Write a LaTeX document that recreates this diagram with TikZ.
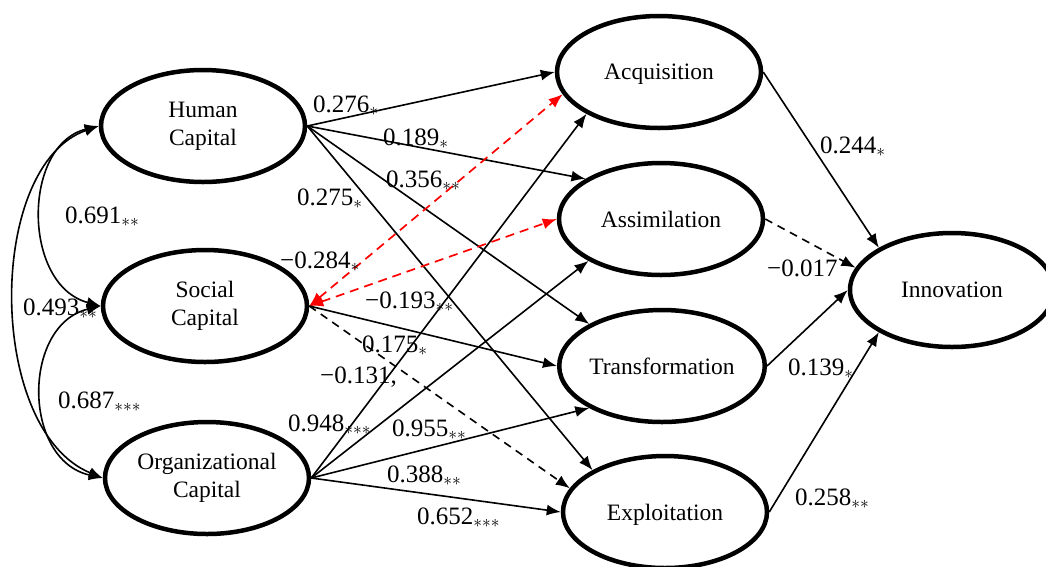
\RequirePackage{fix-cm}
\documentclass[tikz,border=0pt]{standalone}
\usepackage{fontspec}
\setmainfont{Liberation Serif}
\usetikzlibrary{shapes.geometric,arrows.meta}
\begin{document}
\begin{tikzpicture}[x=1pt,y=-1pt,
  lv/.style={ellipse,draw,line width=4.5pt,inner sep=0pt,minimum width=204pt,minimum height=112pt,align=center,font=\fontsize{23.5}{28}\selectfont},
  rv/.style={lv,text depth=0pt},
  tip/.style={-{Latex[length=14pt,width=11pt]}},
  pth/.style={line width=1.6pt,tip},
  dpth/.style={pth,dash pattern=on 8pt off 6pt},
  rpth/.style={line width=1.7pt,red,dash pattern=on 9pt off 6pt,{Latex[length=14pt,width=11pt]}-{Latex[length=14pt,width=11pt]}},
  cov/.style={line width=1.6pt,{Latex[length=14pt,width=11pt]}-{Latex[length=14pt,width=11pt]}},
  lab/.style={anchor=base west,inner sep=0pt,font=\fontsize{25}{30}\selectfont}
]
\useasboundingbox (0,0) rectangle (1046,566);
% latent variables
\node[lv] (HC) at (203,126) {Human\\Capital};
\node[lv] (SC) at (205,306) {Social\\Capital};
\node[lv] (OC) at (207,478) {Organizational\\Capital};
\node[rv] (ACQ) at (659,72) {Acquisition};
\node[rv] (ASM) at (661,219) {Assimilation};
\node[rv] (TRF) at (662,366) {Transformation};
\node[rv] (EXP) at (665,512) {Exploitation};
\node[rv,minimum height=114pt] (INN) at (952,290) {Innovation};
% covariances
\draw[cov] (HC.west) .. controls (22,145) and (22,285) .. (SC.west);
\draw[cov] (SC.west) .. controls (22,325) and (22,460) .. (OC.west);
\draw[cov] (HC.west) .. controls (-14,165) and (-14,430) .. (OC.west);
% paths
\draw[pth] (HC.east) -- (ACQ.west);
\draw[pth] (HC.east) -- (ASM.152);
\draw[pth] (HC.east) -- (TRF.150);
\draw[pth] (HC.east) -- (EXP.150);
\draw[rpth] (SC.east) -- (ACQ.193);
\draw[rpth] (SC.east) -- (ASM.west);
\draw[pth] (SC.east) -- (TRF.west);
\draw[dpth] (SC.east) -- (EXP.166);
\draw[pth] (OC.east) -- (ACQ.210);
\draw[pth] (OC.east) -- (ASM.210);
\draw[pth] (OC.east) -- (TRF.210);
\draw[pth] (OC.east) -- (EXP.west);
\draw[pth] (ACQ.east) -- (INN.150);
\draw[dpth] (ASM.east) -- (INN.167);
\draw[pth] (TRF.east) -- (INN.west);
\draw[pth] (EXP.east) -- (INN.210);
% labels
\node[lab] (l1) at (313,112) {0.276$_{\ast}$};
\node[lab] (l2) at (383,145) {0.189$_{\ast}$};
\node[lab] (l3) at (386,187) {0.356$_{\ast\ast}$};
\node[lab] (l4) at (297,205) {0.275$_{\ast}$};
\node[lab] (l5) at (280,268) {−0.284$_{\ast}$};
\node[lab] (l6) at (365,308) {−0.193$_{\ast\ast}$};
\node[lab] (l7) at (362,352) {0.175$_{\ast}$};
\node[lab] (l8) at (320,383) {−0.131,};
\node[lab] (l9) at (288,431) {0.948$_{\ast\ast\ast}$};
\node[lab] (l10) at (392,436) {0.955$_{\ast\ast}$};
\node[lab] (l11) at (387,482) {0.388$_{\ast\ast}$};
\node[lab] (l12) at (417,524) {0.652$_{\ast\ast\ast}$};
\node[lab] (l13) at (65,223) {0.691$_{\ast\ast}$};
\node[lab] (l14) at (23,315) {0.493$_{\ast\ast}$};
\node[lab] (l15) at (58,408) {0.687$_{\ast\ast\ast}$};
\node[lab] (l16) at (820,153) {0.244$_{\ast}$};
\node[lab] (l17) at (767,276) {−0.017};
\node[lab] (l18) at (788,375) {0.139$_{\ast}$};
\node[lab] (l19) at (795,505) {0.258$_{\ast\ast}$};
\end{tikzpicture}
\end{document}
